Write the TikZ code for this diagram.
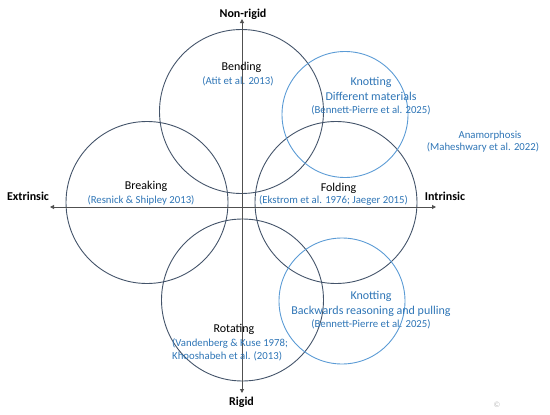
\documentclass[tikz,border=0pt]{standalone}
\usepackage{fontspec}
\setmainfont{Carlito}
\usetikzlibrary{arrows.meta}
\definecolor{ring}{HTML}{44546A}
\definecolor{lring}{HTML}{5B9BD5}
\definecolor{cite}{HTML}{2E75B6}
\definecolor{axisc}{HTML}{505050}
\begin{document}
\begin{tikzpicture}[x=1pt,y=-1pt,
  darkc/.style={circle,draw=ring,line width=0.9pt,inner sep=0pt},
  lightc/.style={circle,draw=lring,line width=0.9pt,inner sep=0pt},
  lbl/.style={anchor=base,yshift=-4.2pt,font=\fontsize{12}{14}\selectfont,inner sep=0pt},
  ctn/.style={anchor=base,yshift=-3.8pt,font=\fontsize{10.75}{13}\selectfont,text=cite,inner sep=0pt},
  ctnw/.style={ctn,anchor=base west},
  ax/.style={draw=axisc,line width=0.9pt,{Triangle[length=4pt,width=4pt]}-{Triangle[length=4pt,width=4pt]}},
  axl/.style={anchor=base,yshift=-4.2pt,font=\bfseries\fontsize{12}{14}\selectfont,inner sep=0pt}]
\useasboundingbox (0,0) rectangle (550,415);
% circles
\node[darkc,minimum size=164pt] (bend) at (241.5,111.5) {};
\node[darkc,minimum size=162pt] (brk) at (147,202.5) {};
\node[darkc,minimum size=162pt] (fold) at (336,202.5) {};
\node[darkc,minimum size=162pt] (rot) at (242.5,300) {};
\node[lightc,minimum size=126pt] (kn1) at (345,114.5) {};
\node[lightc,minimum size=126pt] (kn2) at (342,301) {};
% axes
\coordinate (axL) at (50,207);
\coordinate (axR) at (436,207);
\coordinate (axT) at (242,19);
\coordinate (axB) at (242,393);
\draw[ax] (axL) -- (axR);
\draw[ax] (axT) -- (axB);
\node[axl] (nonrigid) at (243,13.3) {Non-rigid};
\node[axl] (extr) at (28,196.7) {Extrinsic};
\node[axl] (intr) at (445,196.7) {Intrinsic};
\node[axl] (rigid) at (241.5,401) {Rigid};
% labels
\node[lbl] (tbend) at (241.5,66.7) {Bending};
\node[ctn] (cbend) at (238,81) {(Atit et al. 2013)};
\node[lbl,text=cite] (tkn1) at (371,81.5) {Knotting};
\node[lbl,text=cite] (tkn1b) at (371,96) {Different materials};
\node[ctn] (ckn1) at (371,110) {(Bennett-Pierre et al. 2025)};
\node[ctn] (tana) at (490,134.5) {Anamorphosis};
\node[ctn] (cana) at (483,146.7) {(Maheshwary et al. 2022)};
\node[lbl] (tbrk) at (146,185) {Breaking};
\node[ctn] (cbrk) at (141,200) {(Resnick \& Shipley 2013)};
\node[lbl] (tfold) at (338.5,187) {Folding};
\node[ctn] (cfold) at (333.5,200) {(Ekstrom et al. 1976; Jaeger 2015)};
\node[lbl,text=cite] (tkn2) at (371,295) {Knotting};
\node[lbl,text=cite] (tkn2b) at (371,310) {Backwards reasoning and pulling};
\node[ctn] (ckn2) at (371,324) {(Bennett-Pierre et al. 2025)};
\node[lbl] (trot) at (234,328.5) {Rotating};
\node[ctnw] (crot1) at (172,342.3) {(Vandenberg \& Kuse 1978;};
\node[ctnw] (crot2) at (172,356) {Khooshabeh et al. (2013)};
\node[anchor=center,inner sep=0pt,text=black!25,font=\fontsize{8}{8}\selectfont] (copy) at (497,405) {\textcopyright};
\end{tikzpicture}
\end{document}
